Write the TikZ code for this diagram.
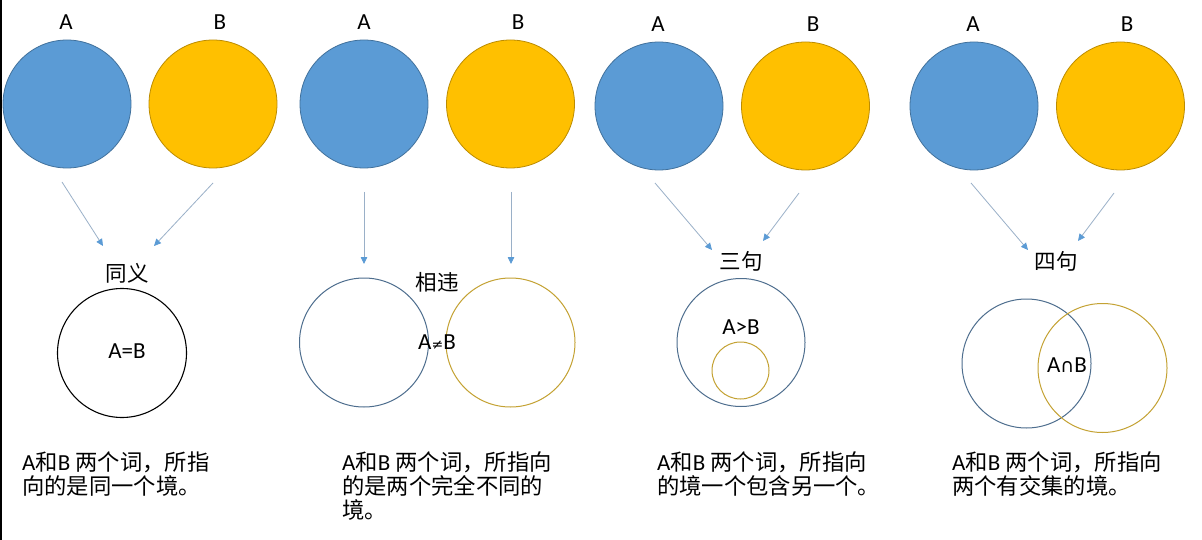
\documentclass[tikz,border=0pt]{standalone}
\usepackage{fontspec}
\setmainfont{Carlito}
\newfontfamily\cjk[Scale=0.97]{Noto Sans CJK SC}
\newfontfamily\symf{DejaVu Sans}
\usetikzlibrary{arrows.meta}
\definecolor{fillA}{HTML}{5B9BD5}
\definecolor{edgeA}{HTML}{41719C}
\definecolor{fillB}{HTML}{FFC000}
\definecolor{edgeB}{HTML}{BC8C00}
\definecolor{arrowcol}{HTML}{9AB0C8}
\definecolor{headcol}{HTML}{5B9BD5}
\definecolor{ringA}{HTML}{4E6E8E}
\definecolor{ringB}{HTML}{C4A233}
\newcommand{\neqsym}{{\symf\fontsize{14}{14}\selectfont ≠}}
\newcommand{\capsym}{{\symf\fontsize{19}{19}\selectfont ∩}}
\tikzset{
  bigA/.style={circle, draw=edgeA, fill=fillA, minimum size=128pt, inner sep=0pt, line width=0.8pt},
  bigB/.style={circle, draw=edgeB, fill=fillB, minimum size=128pt, inner sep=0pt, line width=0.8pt},
  ringa/.style={circle, draw=ringA, minimum size=#1, inner sep=0pt, line width=1pt},
  ringb/.style={circle, draw=ringB, minimum size=#1, inner sep=0pt, line width=1pt},
  ringk/.style={circle, draw=black, minimum size=#1, inner sep=0pt, line width=1.1pt},
  lbl/.style={font=\fontsize{23}{26}\selectfont, inner sep=0pt},
  clbl/.style={font=\fontsize{22.2}{26}\cjk, inner sep=0pt},
  para/.style={font=\fontsize{23}{24}\selectfont, inner sep=0pt, anchor=north west, align=left},
  conn/.style={draw=arrowcol, line width=0.8pt, -{Triangle[length=7pt,width=6.5pt,color=headcol]}}
}
\begin{document}
\begin{tikzpicture}[x=1pt,y=-1pt]
\useasboundingbox (0,0) rectangle (1202,540);
\fill[white] (0,0) rectangle (1202,540);
\fill[black] (0,0) rectangle (2.2,540);

% ---- group 1 ----
\node[bigA] (a1) at (67,104) {};
\node[bigB] (b1) at (213,104) {};
\node[lbl] (la1) at (66,22) {A};
\node[lbl] (lb1) at (220,22) {B};
\coordinate (s1a) at (62,182);
\coordinate (e1a) at (103,246);
\coordinate (s1b) at (213,183);
\coordinate (e1b) at (154,246);
\draw[conn] (s1a) -- (e1a);
\draw[conn] (s1b) -- (e1b);
\node[clbl] (t1) at (127,273) {同义};
\node[ringk=129pt] (r1) at (122,353) {};
\node[lbl] (eq1) at (127,351.5) {A=B};
\node[para] (p1) at (22,452) {A{\cjk 和}B {\cjk 两个词，所指}\\{\cjk 向的是同一个境。}};

% ---- group 2 ----
\node[bigA] (a2) at (364,104) {};
\node[bigB] (b2) at (510.5,104) {};
\node[lbl] (la2) at (364,22) {A};
\node[lbl] (lb2) at (518,22) {B};
\coordinate (s2a) at (364,192);
\coordinate (e2a) at (364,264);
\coordinate (s2b) at (511,192);
\coordinate (e2b) at (511,264);
\draw[conn] (s2a) -- (e2a);
\draw[conn] (s2b) -- (e2b);
\node[clbl] (t2) at (437,282) {相违};
\node[ringa=129pt] (r2a) at (364,342.5) {};
\node[ringb=129pt] (r2b) at (510.5,342.5) {};
\node[lbl] (ne2) at (437,342) {A\neqsym B};
\node[para] (p2) at (342,452) {A{\cjk 和}B {\cjk 两个词，所指向}\\{\cjk 的是两个完全不同的}\\{\cjk 境。}};

% ---- group 3 ----
\node[bigA] (a3) at (659,106) {};
\node[bigB] (b3) at (805.5,106) {};
\node[lbl] (la3) at (658,24) {A};
\node[lbl] (lb3) at (813,24) {B};
\coordinate (s3a) at (655,183);
\coordinate (e3a) at (712,250);
\coordinate (s3b) at (799,193);
\coordinate (e3b) at (763,241);
\draw[conn] (s3a) -- (e3a);
\draw[conn] (s3b) -- (e3b);
\node[clbl] (t3) at (741,261) {三句};
\node[ringa=128pt] (r3a) at (741,342.5) {};
\node[ringb=57pt] (r3b) at (740.5,370.5) {};
\node[lbl] (gt3) at (741,327) {A>B};
\node[para] (p3) at (657,452) {A{\cjk 和}B {\cjk 两个词，所指向}\\{\cjk 的境一个包含另一个。}};

% ---- group 4 ----
\node[bigA] (a4) at (974,106) {};
\node[bigB] (b4) at (1120.5,106) {};
\node[lbl] (la4) at (973,24) {A};
\node[lbl] (lb4) at (1127,24) {B};
\coordinate (s4a) at (971,183);
\coordinate (e4a) at (1028,250);
\coordinate (s4b) at (1114,193);
\coordinate (e4b) at (1078,241);
\draw[conn] (s4a) -- (e4a);
\draw[conn] (s4b) -- (e4b);
\node[clbl] (t4) at (1056,261) {四句};
\node[ringa=129pt] (r4a) at (1026.5,363.5) {};
\node[ringb=129pt] (r4b) at (1102.5,368) {};
\node[lbl] (in4) at (1067,365) {A\capsym B};
\node[para] (p4) at (952,452) {A{\cjk 和}B {\cjk 两个词，所指向}\\{\cjk 两个有交集的境。}};
\end{tikzpicture}
\end{document}
